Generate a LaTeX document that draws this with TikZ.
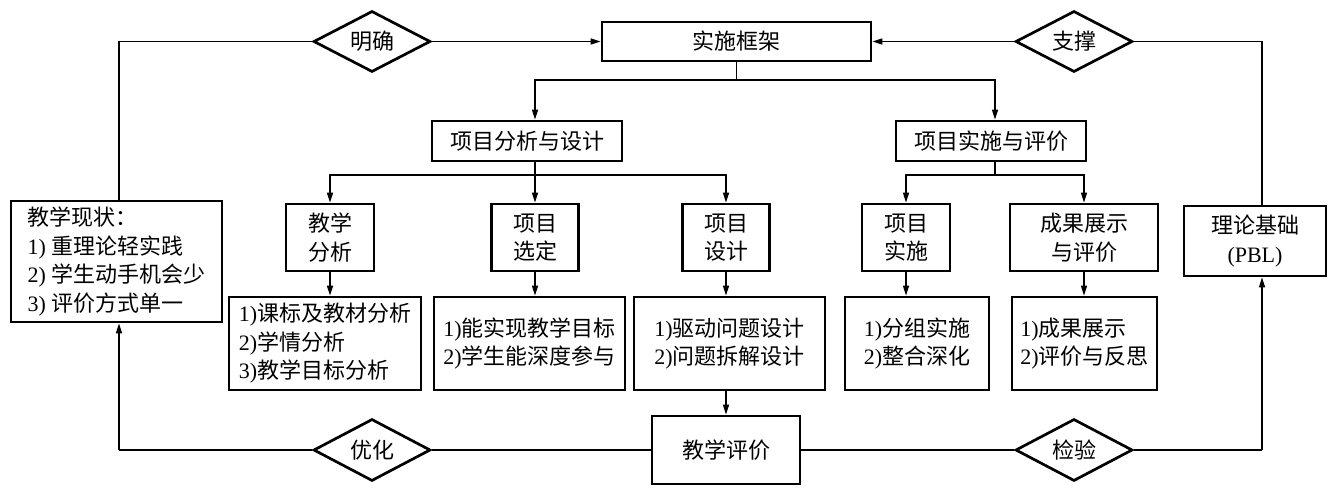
\documentclass[tikz,border=0pt]{standalone}
\usepackage{fontspec}
\setmainfont{Noto Sans CJK SC}
\newfontfamily\latfont{Liberation Serif}
\newcommand\latn[1]{{\latfont #1}}
\usetikzlibrary{shapes.geometric,arrows.meta}
\tikzset{
  bx/.style={draw, line width=2.7pt, inner sep=0pt, align=center,
    font=\fontsize{22}{28.5}\selectfont},
  dm/.style={draw, diamond, line width=2.7pt, inner sep=0pt, aspect=1.9,
    minimum width=117pt, minimum height=61pt, font=\fontsize{22}{28.5}\selectfont},
  ln/.style={line width=1.3pt},
  arr/.style={line width=1.3pt, -{Triangle[length=10pt,width=6pt]}}
}
\begin{document}
\begin{tikzpicture}[x=1pt,y=-1pt]
\useasboundingbox (0,0) rectangle (1335,489);
% top row
\node[bx, minimum width=269pt, minimum height=39pt] (kj) at (736.5,41.5) {实施框架};
\node[dm] (mq) at (372,41.5) {明确};
\node[dm] (zc) at (1074,41.5) {支撑};
% level 1
\node[bx, minimum width=190pt, minimum height=40pt] (fx) at (527,141) {项目分析与设计};
\node[bx, minimum width=190pt, minimum height=40pt] (ss) at (991,141) {项目实施与评价};
% level 2
\node[bx, minimum width=88pt, minimum height=67pt] (jxfx) at (330,237.5) {教学\\分析};
\node[bx, minimum width=87pt, minimum height=67pt] (xmxd) at (535,237.5) {项目\\选定};
\node[bx, minimum width=87pt, minimum height=67pt] (xmsj) at (726,237.5) {项目\\设计};
\node[bx, minimum width=88pt, minimum height=67pt] (xmss) at (906,237.5) {项目\\实施};
\node[bx, minimum width=148pt, minimum height=67pt] (cgzs) at (1084,237.5) {成果展示\\与评价};
\node[bx, minimum width=142pt, minimum height=70pt] (llj) at (1255,241) {理论基础\\\latn{(PBL)}};
\node[bx, minimum width=211pt, minimum height=121pt, align=left] (xz) at (116.5,261.5)
  {教学现状：\\\latn{1) }重理论轻实践\\\latn{2) }学生动手机会少\\\latn{3) }评价方式单一};
% level 3
\node[bx, minimum width=192pt, minimum height=93pt, align=left] (d1) at (325,343.5)
  {\latn{1)}课标及教材分析\\\latn{2)}学情分析\\\latn{3)}教学目标分析};
\node[bx, minimum width=191pt, minimum height=93pt] (d2) at (529.5,343.5)
  {\latn{1)}能实现教学目标\\\latn{2)}学生能深度参与};
\node[bx, minimum width=191pt, minimum height=93pt] (d3) at (729.5,343.5)
  {\latn{1)}驱动问题设计\\\latn{2)}问题拆解设计};
\node[bx, minimum width=144pt, minimum height=93pt] (d4) at (917,343.5)
  {\latn{1)}分组实施\\\latn{2)}整合深化};
\node[bx, minimum width=145pt, minimum height=93pt, align=left] (d5) at (1084.5,343.5)
  {\latn{1)}成果展示\\\latn{2)}评价与反思};
% bottom
\node[bx, minimum width=148pt, minimum height=68pt] (pj) at (726,450) {教学评价};
\node[dm, minimum height=62pt] (yh) at (372,450) {优化};
\node[dm, minimum height=62pt] (jy) at (1074,450) {检验};
% coordinates
\coordinate (lt) at (119,41.5);
\coordinate (rt) at (1262,41.5);
\coordinate (lb) at (119,450);
\coordinate (rb) at (1262,450);
\coordinate (b1) at (736.5,80);
\coordinate (b2) at (535,175);
\coordinate (b3) at (995,175);
% top connectors
\draw[arr] (mq.east) -- (kj.west);
\draw[ln] (mq.west) -- (lt) -- (lt |- xz.north);
\draw[arr] (zc.west) -- (kj.east);
\draw[ln] (zc.east) -- (rt) -- (rt |- llj.north);
% tree
\draw[ln] (kj.south) -- (b1);
\draw[arr] (b1) -| (fx.north -| b2);
\draw[arr] (b1) -| (ss.north -| b3);
\draw[ln] (fx.south -| b2) -- (b2);
\draw[arr] (b2) -| (jxfx.north);
\draw[arr] (b2) -- (xmxd.north);
\draw[arr] (b2) -| (xmsj.north);
\draw[ln] (ss.south -| b3) -- (b3);
\draw[arr] (b3) -| (xmss.north);
\draw[arr] (b3) -| (cgzs.north);
% level 2 -> level 3
\draw[arr] (jxfx.south) -- (jxfx.south |- d1.north);
\draw[arr] (xmxd.south) -- (xmxd.south |- d2.north);
\draw[arr] (xmsj.south) -- (xmsj.south |- d3.north);
\draw[arr] (xmss.south) -- (xmss.south |- d4.north);
\draw[arr] (cgzs.south) -- (cgzs.south |- d5.north);
\draw[arr] (pj.north |- d3.south) -- (pj.north);
% bottom connectors
\draw[ln] (pj.west) -- (yh.east);
\draw[ln] (yh.west) -- (lb);
\draw[arr] (lb) -- (lb |- xz.south);
\draw[ln] (pj.east) -- (jy.west);
\draw[ln] (jy.east) -- (rb);
\draw[arr] (rb) -- (rb |- llj.south);
\end{tikzpicture}
\end{document}
